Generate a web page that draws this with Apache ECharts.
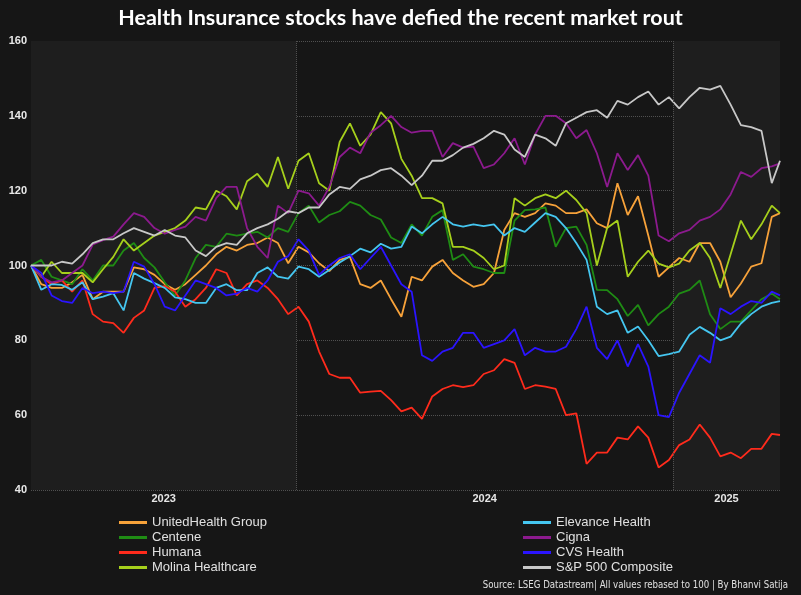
<!DOCTYPE html>
<html>
<head>
<meta charset="utf-8">
<script src="https://cdn.jsdelivr.net/npm/echarts@6/dist/echarts.min.js"></script>
<style>
  html, body { margin: 0; padding: 0; background: #161616; }
  #main { width: 801px; height: 595px; }
</style>
</head>
<body>
<div id="main"></div>
<script>
// dates sampled about every 10 days, values rebased to 100
const dates = [
  '2023-04-18','2023-04-28','2023-05-08','2023-05-18','2023-05-28','2023-06-07','2023-06-17','2023-06-27','2023-07-07','2023-07-17',
  '2023-07-27','2023-08-06','2023-08-16','2023-08-26','2023-09-05','2023-09-15','2023-09-25','2023-10-05','2023-10-15','2023-10-25',
  '2023-11-04','2023-11-14','2023-11-24','2023-12-04','2023-12-14','2023-12-24','2024-01-03','2024-01-13','2024-01-23','2024-02-02',
  '2024-02-12','2024-02-22','2024-03-03','2024-03-13','2024-03-23','2024-04-02','2024-04-12','2024-04-22','2024-05-02','2024-05-12',
  '2024-05-22','2024-06-01','2024-06-11','2024-06-21','2024-07-01','2024-07-11','2024-07-21','2024-07-31','2024-08-10','2024-08-20',
  '2024-08-30','2024-09-09','2024-09-19','2024-09-29','2024-10-09','2024-10-19','2024-10-29','2024-11-08','2024-11-18','2024-11-28',
  '2024-12-08','2024-12-18','2024-12-28','2025-01-07','2025-01-17','2025-01-27','2025-02-06','2025-02-16','2025-02-26','2025-03-08',
  '2025-03-18','2025-03-28','2025-04-07','2025-04-15'
];

const unitedHealth = [
  100, 95, 94, 94, 95.5, 97.5, 91, 93, 93, 93,
  99.5, 99, 97.5, 95, 93.5, 95, 97.5, 100, 103, 105,
  104, 105.5, 106, 107.5, 106, 100.6, 105, 103.5, 100.6, 98.5,
  101.5, 102.3, 95, 94, 96, 91, 86.3, 97, 96, 99.7,
  101.5, 98, 96, 94.3, 95, 98, 109.5, 114, 113, 114,
  116.6, 116, 114, 114, 115, 111.3, 110, 122, 113.5, 118.5,
  108, 97, 99.5, 102, 101, 106, 106, 101, 91.5, 95.2,
  99.7, 100.6, 113, 114
];
const centene = [
  100, 101.5, 97, 96, 95, 99, 96, 100, 100, 104,
  106, 102, 99.5, 95.5, 92, 96, 102, 105.5, 105, 108.5,
  108, 108.5, 109, 107.5, 110, 109, 114, 116, 111.5, 113.5,
  114.5, 117, 116, 113.5, 112.3, 107.5, 106, 111, 108, 113,
  114.8, 101.5, 103, 99.7, 99, 98, 98, 112, 114.8, 115,
  115.5, 105, 110, 110.4, 105.5, 93.5, 93.4, 91, 86.5, 89.5,
  84, 87, 89, 92.5, 93.5, 96, 87, 83, 85, 85,
  88, 91, 92.5, 91
];
const humana = [
  100, 97, 95, 96, 93, 96, 87, 85, 84.6, 82,
  86, 88, 94, 94.5, 93, 89, 91, 94, 99, 98,
  92, 95, 96, 94, 91, 87, 89, 85, 77, 71,
  70, 70, 66, 66.3, 66.5, 64, 61, 62, 59, 65,
  67, 68, 67.5, 68, 71, 72, 75, 74, 67, 68,
  67.6, 67, 60, 60.5, 47, 50, 50, 54, 53.5, 57,
  54, 46, 48, 52, 53.5, 57.5, 54, 49, 50, 48.5,
  51, 51, 55, 54.7
];
const molina = [
  100, 97, 101, 98, 98, 98, 95.5, 99, 102.3, 107,
  104, 106, 108, 109, 110, 112, 115.5, 115, 120, 118.5,
  115, 122.5, 124.5, 121, 129, 120.5, 128, 130, 122, 120,
  133, 138, 132, 135, 141, 138, 128.5, 124, 118, 118,
  116.6, 105, 105, 104, 102, 99, 100, 118, 116, 118,
  119, 118, 120, 117.5, 114, 100, 110, 112, 97, 101,
  104, 100.5, 99.5, 100.5, 104, 106, 102, 94, 103, 112,
  107, 111, 116, 114
];
const elevance = [
  100, 93.5, 95, 94.8, 93.5, 95.5, 91, 91.7, 92.6, 88,
  98, 96.5, 95.3, 94, 91.5, 91, 90, 90, 94, 95,
  93.4, 93.4, 98, 99.5, 97, 96.5, 99.7, 99, 97, 98.8,
  100.8, 102.5, 104.5, 103.5, 105.8, 104.5, 105, 110.4, 108.6, 111,
  113, 111, 110.4, 111, 110.5, 111, 108, 110, 109, 111.5,
  114, 113, 110, 106, 101.5, 89, 87, 88, 82, 83.7,
  80, 75.8, 76.3, 77, 81.5, 83.6, 82, 80, 81, 84.5,
  87, 89, 90, 90.5
];
const cigna = [
  100, 97, 95.5, 96, 98, 100, 105.6, 106.8, 107.7, 111,
  114, 113, 110, 108.5, 109.5, 110.4, 113, 112, 118, 121,
  121, 110, 105, 102, 116, 114, 120, 119.3, 116, 121,
  129, 131.5, 130, 135.5, 137.5, 140, 137, 135.5, 136, 136,
  129, 132.7, 131.5, 131.8, 126, 127, 130, 134, 127, 135,
  140, 140, 138, 134, 136.2, 130, 121, 130, 125.5, 129.5,
  124, 108, 106.5, 108.6, 109.5, 112, 113, 115, 119, 125,
  123.7, 126, 126.5, 127.3
];
const cvs = [
  100, 98, 92, 90.5, 90, 94, 92.6, 93, 92.6, 93,
  101, 99.7, 95, 89, 88, 92, 96, 95, 94, 92,
  92.5, 94, 93, 96, 101, 102.5, 107, 104, 97.5, 100,
  102, 103, 99, 102, 105, 100, 95, 93, 76, 74.5,
  77, 78, 82, 82, 78, 79, 80, 83, 76, 78,
  77, 77, 78.3, 83, 89, 78, 75, 80, 73, 79,
  73, 60, 59.5, 66, 71, 76, 74, 88.6, 87, 89,
  90.5, 90, 93, 92
];
const sp500 = [
  100, 100, 100, 101, 100.5, 103, 106, 107, 107, 108.6,
  110, 109, 108, 109.5, 108, 107.5, 104, 102.5, 105, 106,
  105.5, 108.6, 110, 111, 112.5, 114.5, 114, 115.5, 115.5, 119,
  121, 120.5, 123, 124, 125.5, 126, 124, 121.5, 124, 128,
  128, 129.5, 131.5, 132.5, 134, 136, 135, 131, 129, 135,
  134, 132, 138, 139.5, 141, 141.5, 139.5, 144, 143, 145,
  146.5, 143, 145, 142, 145, 147.5, 147, 148, 143, 137.5,
  137, 136, 122, 128
];

const names = ['UnitedHealth Group', 'Centene', 'Humana', 'Molina Healthcare',
               'Elevance Health', 'Cigna', 'CVS Health', 'S&P 500 Composite'];
const values = [unitedHealth, centene, humana, molina, elevance, cigna, cvs, sp500];
const colors = ['#f7a23a', '#1f8c14', '#ff2b1c', '#a6d01c', '#45c6f0', '#8c1a8e', '#2b14ff', '#c8c8c8'];
const yearBands = ['2023', '2024', '2025'];

function pairs(arr) {
  return dates.map(function (d, i) { return [d, arr[i]]; });
}

var chart = echarts.init(document.getElementById('main'));

var series = [{
  // background bands and year dividers
  name: '',
  type: 'line',
  data: pairs(sp500),
  showSymbol: false,
  silent: true,
  z: 1,
  lineStyle: { opacity: 0 },
  markArea: {
    silent: true,
    label: { show: true, position: 'bottom', distance: 3, color: '#e6e6e6', fontSize: 11, fontWeight: 'bold', fontFamily: 'Liberation Sans' },
    data: [
      [{ name: yearBands[0], xAxis: dates[0], itemStyle: { color: '#1e1e1e' } }, { xAxis: '2024-01-01' }],
      [{ name: yearBands[1], xAxis: '2024-01-01', itemStyle: { color: 'rgba(0,0,0,0)' } }, { xAxis: '2025-01-01' }],
      [{ name: yearBands[2], xAxis: '2025-01-01', itemStyle: { color: '#1e1e1e' } }, { xAxis: dates[dates.length - 1] }]
    ]
  },
  markLine: {
    silent: true,
    symbol: 'none',
    label: { show: false },
    lineStyle: { color: '#505050', type: 'dotted', width: 1 },
    data: [{ xAxis: '2024-01-01' }, { xAxis: '2025-01-01' }]
  }
}];

names.forEach(function (n, i) {
  series.push({
    name: n,
    type: 'line',
    data: pairs(values[i]),
    showSymbol: false,
    z: 3,
    color: colors[i],
    lineStyle: { width: 1.8, color: colors[i] }
  });
});

var legendText = { color: '#e0e0e0', fontSize: 13, lineHeight: 15, fontFamily: 'Liberation Sans' };

var option = {
  backgroundColor: '#161616',
  animation: false,
  title: [{
    text: 'Health Insurance stocks have defied the recent market rout',
    left: 'center',
    top: 2,
    textStyle: { color: '#ffffff', fontSize: 21.5, fontWeight: 'bold', fontFamily: 'Lato' }
  }, {
    text: 'Source: LSEG Datastream| All values rebased to 100 | By Bhanvi Satija',
    right: 8,
    bottom: 0,
    textStyle: { color: '#e0e0e0', fontSize: 9.6, fontWeight: 'normal', fontFamily: "'Liberation Sans Narrow', 'DejaVu Sans Condensed', sans-serif" }
  }],
  legend: [{
    data: names.slice(0, 4),
    orient: 'vertical',
    left: 114,
    top: 510,
    icon: 'rect',
    itemWidth: 28,
    itemHeight: 3,
    itemGap: 0,
    textStyle: legendText
  }, {
    data: names.slice(4),
    orient: 'vertical',
    left: 518,
    top: 510,
    icon: 'rect',
    itemWidth: 28,
    itemHeight: 3,
    itemGap: 0,
    textStyle: legendText
  }],
  grid: { left: 31, right: 21, top: 41, bottom: 105 },
  xAxis: {
    type: 'time',
    min: dates[0],
    max: dates[dates.length - 1],
    axisLine: { show: false },
    axisTick: { show: false },
    axisLabel: { show: false },
    splitLine: { show: false }
  },
  yAxis: {
    type: 'value',
    min: 40,
    max: 160,
    interval: 20,
    axisLine: { show: false },
    axisTick: { show: false },
    axisLabel: { color: '#e8e8e8', fontSize: 11, fontWeight: 'bold', fontFamily: 'Liberation Sans', margin: 4 },
    splitLine: { lineStyle: { color: '#505050', type: 'dotted', width: 1 } }
  },
  series: series
};

chart.setOption(option);
</script>
</body>
</html>
